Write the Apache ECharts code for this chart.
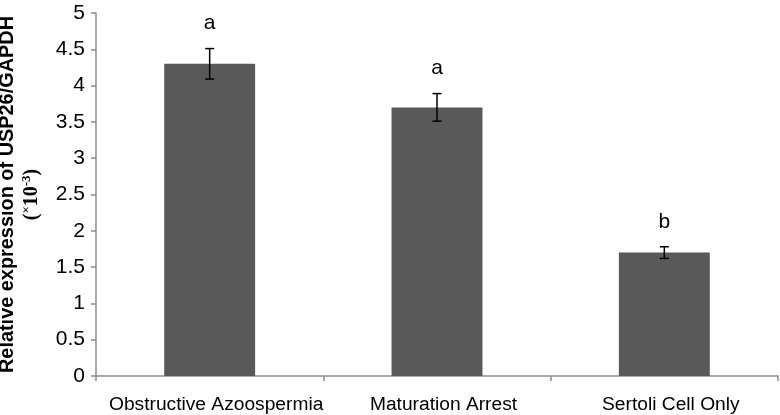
<!DOCTYPE html>
<html>
<head>
<meta charset="utf-8">
<script src="https://cdn.jsdelivr.net/npm/echarts@6/dist/echarts.min.js"></script>
<style>html,body{margin:0;padding:0;background:#fff;}#c{width:780px;height:415px;}</style>
</head>
<body>
<div id="c"></div>
<script>
var categories = ['Obstructive Azoospermia', 'Maturation Arrest', 'Sertoli Cell Only'];
var values = [4.30, 3.70, 1.70];
var errors = [0.21, 0.19, 0.08];
var letters = ['a', 'a', 'b'];
var yTicks = { min: 0, max: 5, interval: 0.5 };

var FONT = '"Liberation Sans", Arial, sans-serif';
var SERIF = '"Liberation Serif", "Times New Roman", serif';
var chart = echarts.init(document.getElementById('c'), null, { renderer: 'canvas' });

var errData = values.map(function (v, i) { return [i, v - errors[i], v + errors[i]]; });

chart.setOption({
  animation: false,
  backgroundColor: '#fff',
  grid: { left: 96, right: 2, top: 13, bottom: 39, containLabel: false, outerBoundsMode: 'none' },
  xAxis: {
    type: 'category',
    data: categories,
    boundaryGap: true,
    axisLine: { show: true, lineStyle: { color: '#8c8c8c', width: 1.5 } },
    axisTick: { show: true, length: 5, interval: 0, lineStyle: { color: '#8c8c8c', width: 1.5 } },
    axisLabel: { color: '#000', fontSize: 19.2, fontFamily: FONT, margin: 19, interval: 0, padding: [0, 0, 0, 13] },
    splitLine: { show: false }
  },
  yAxis: {
    type: 'value',
    min: yTicks.min, max: yTicks.max, interval: yTicks.interval,
    axisLine: { show: true, lineStyle: { color: '#8c8c8c', width: 1.5 } },
    axisTick: { show: true, length: 5, lineStyle: { color: '#8c8c8c', width: 1.5 } },
    axisLabel: { color: '#000', fontSize: 21, fontFamily: FONT, margin: 11 },
    splitLine: { show: false },
    name: '{t|Relative expression of USP26/GAPDH}\n{s|(}{p|×}{s|10}{p|-3}{s|)}',
    nameLocation: 'middle',
    nameGap: 52,
    nameRotate: 90,
    nameTextStyle: {
      color: '#000',
      rich: {
        t: { fontSize: 19.9, fontWeight: 'bold', fontFamily: FONT, lineHeight: 24, color: '#000' },
        s: { fontSize: 20, fontWeight: 'bold', fontFamily: SERIF, lineHeight: 24, color: '#000' },
        p: { fontSize: 13, fontWeight: 'bold', fontFamily: SERIF, verticalAlign: 'top', lineHeight: 24, color: '#000' }
      }
    }
  },
  series: [
    {
      type: 'bar',
      data: values,
      barWidth: '40%',
      itemStyle: { color: '#595959' },
      silent: true
    },
    {
      type: 'custom',
      data: errData,
      silent: true,
      z: 10,
      renderItem: function (params, api) {
        var x = api.value(0);
        var lo = api.coord([x, api.value(1)]);
        var hi = api.coord([x, api.value(2)]);
        var cap = 4.5;
        var st = { stroke: '#000', lineWidth: 1.5 };
        return {
          type: 'group',
          children: [
            { type: 'line', shape: { x1: hi[0], y1: hi[1], x2: lo[0], y2: lo[1] }, style: st },
            { type: 'line', shape: { x1: hi[0] - cap, y1: hi[1], x2: hi[0] + cap, y2: hi[1] }, style: st },
            { type: 'line', shape: { x1: lo[0] - cap, y1: lo[1], x2: lo[0] + cap, y2: lo[1] }, style: st },
            { type: 'text', style: { text: letters[params.dataIndex], x: hi[0], y: hi[1] - 25, align: 'center', verticalAlign: 'middle', fontSize: 21, fontFamily: FONT, fill: '#000' } }
          ]
        };
      }
    }
  ]
});
</script>
</body>
</html>
